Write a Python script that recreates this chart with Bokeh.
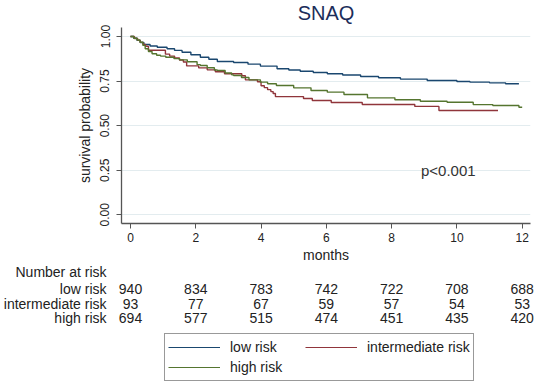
import numpy as np
from bokeh.plotting import figure
from bokeh.models import Range1d, FixedTicker, PrintfTickFormatter, Legend, LegendItem
from bokeh.layouts import column
from bokeh.embed import file_html
from bokeh.resources import INLINE
from bokeh.core.properties import value

# ---------------- data ----------------
groups = ["low risk", "intermediate risk", "high risk"]
colors = ["#1a476f", "#90353b", "#55752f"]

low_t = [0, 0.1, 0.2, 0.3, 0.41, 0.6, 0.82, 1.12, 1.35, 1.58, 1.85, 2.14, 2.4, 2.66,
         3.16, 3.6, 3.98, 4.49, 4.85, 5.2, 5.6, 6.03, 6.5, 7.05, 7.6, 8.27, 9.09,
         10.0, 10.4, 11.0, 11.49, 11.9]
low_s = [1.0, 0.99, 0.978, 0.966, 0.955, 0.947, 0.94, 0.931, 0.922, 0.912, 0.898, 0.884,
         0.872, 0.86, 0.854, 0.845, 0.834, 0.819, 0.812, 0.805, 0.798, 0.791, 0.784,
         0.776, 0.769, 0.761, 0.753, 0.748, 0.744, 0.74, 0.735, 0.735]

int_t = [0, 0.12, 0.22, 0.3, 0.38, 0.46, 0.55, 1.07, 1.2, 1.35, 1.5, 1.62, 1.72, 2.09,
         2.35, 2.6, 2.88, 3.41, 3.52, 3.89, 4.0, 4.1, 4.2, 4.3, 4.37, 4.44, 5.3, 5.57,
         6.15, 7.1, 8.71, 9.45, 11.26]
int_s = [1.0, 0.989, 0.978, 0.967, 0.956, 0.945, 0.923, 0.901, 0.89, 0.879, 0.868, 0.857,
         0.835, 0.824, 0.813, 0.802, 0.791, 0.78, 0.757, 0.746, 0.724, 0.713, 0.702,
         0.691, 0.68, 0.663, 0.652, 0.641, 0.63, 0.619, 0.608, 0.585, 0.585]

high_t = [0, 0.1, 0.2, 0.29, 0.38, 0.45, 0.55, 0.66, 0.8, 0.92, 1.08, 1.33, 1.5, 1.74,
          2.04, 2.14, 2.35, 2.57, 2.66, 2.9, 3.1, 3.16, 3.4, 3.63, 3.98, 4.2, 4.47, 5.0,
          5.53, 6.03, 6.54, 7.26, 8.1, 8.88, 9.7, 10.5, 11.1, 11.9, 12.0]
high_s = [1.0, 0.99, 0.98, 0.968, 0.95, 0.931, 0.916, 0.903, 0.895, 0.89, 0.884, 0.876,
          0.869, 0.858, 0.842, 0.837, 0.825, 0.812, 0.809, 0.795, 0.785, 0.781, 0.77,
          0.757, 0.744, 0.735, 0.725, 0.712, 0.697, 0.688, 0.675, 0.656, 0.645, 0.637,
          0.631, 0.618, 0.613, 0.603, 0.603]

risk_times = [0, 2, 4, 6, 8, 10, 12]
risk_low = [940, 834, 783, 742, 722, 708, 688]
risk_int = [93, 77, 67, 59, 57, 54, 53]
risk_high = [694, 577, 515, 474, 451, 435, 420]

x_ticks = [0, 2, 4, 6, 8, 10, 12]
y_ticks = [0, 0.25, 0.5, 0.75, 1.0]
title_text = "SNAQ"
x_label = "months"
y_label = "survival probability"
p_text = "p<0.001"
p_pos = (8.9, 0.25)
table_header = "Number at risk"

# ---------------- layout helpers ----------------
W, H_MAIN, H_TAB = 541, 265, 117
X0_PX, PX_PER_X = 130.0, 32.64          # pixel column of x=0 and pixels per month
FRAME_L, FRAME_R = 121, 530
FRAME_T, FRAME_B = 27, 223
Y1_PX, Y0_PX = 36.0, 214.3               # pixel rows of y=1 and y=0

def px_to_x(px):
    return (px - X0_PX) / PX_PER_X

def py_to_y(py):
    return (Y0_PX - py) / (Y0_PX - Y1_PX)

FONT = "Liberation Sans"
TXT = "#222222"
curve_data = [(low_t, low_s), (int_t, int_s), (high_t, high_s)]

# ---------------- main plot ----------------
p = figure(width=W, height=H_MAIN, output_backend="svg", toolbar_location=None,
           x_range=Range1d(px_to_x(FRAME_L), px_to_x(FRAME_R)),
           y_range=Range1d(py_to_y(FRAME_B), py_to_y(FRAME_T)),
           min_border_left=FRAME_L, min_border_right=W - FRAME_R,
           min_border_top=FRAME_T, min_border_bottom=H_MAIN - FRAME_B)
p.frame_align = False
p.title.text = title_text
p.title.align = "center"
p.title.vertical_align = "top"
p.title.text_font = FONT
p.title.text_font_size = "20px"
p.title.text_font_style = "normal"
p.title.text_color = "#1c2d5a"
p.title.standoff = 3
p.outline_line_color = None
p.background_fill_color = "white"
p.border_fill_color = "white"

for (ts, ss), c in zip(curve_data, colors):
    p.step(ts, ss, mode="after", line_color=c, line_width=1.4)

p.text(x=[p_pos[0]], y=[p_pos[1]], text=[p_text], text_align="left", text_baseline="middle",
       text_font=value(FONT), text_font_size="15px", text_color="#333333")

p.xgrid.grid_line_color = None
p.ygrid.grid_line_color = "#e3ecef"
p.ygrid.grid_line_width = 1
p.xaxis.ticker = FixedTicker(ticks=x_ticks)
p.yaxis.ticker = FixedTicker(ticks=y_ticks)
p.yaxis.formatter = PrintfTickFormatter(format="%.2f")
p.yaxis.major_label_orientation = "parallel"
for ax in [p.xaxis, p.yaxis]:
    ax.axis_line_color = "#555555"
    ax.axis_line_width = 1.3
    ax.major_tick_line_color = "#555555"
    ax.major_tick_out = 5
    ax.major_tick_in = 0
    ax.minor_tick_line_color = None
    ax.major_label_text_font = FONT
    ax.major_label_text_font_size = "12px"
    ax.major_label_text_color = TXT
    ax.axis_label_text_font = FONT
    ax.axis_label_text_font_size = "14px"
    ax.axis_label_text_font_style = "normal"
    ax.axis_label_text_color = TXT
p.xaxis.axis_label = x_label
p.yaxis.axis_label = y_label
p.xaxis.major_label_standoff = 4
p.xaxis.axis_label_standoff = 2
p.yaxis.major_label_standoff = 7
p.yaxis.axis_label_standoff = 5

# ---------------- number-at-risk table + legend ----------------
p2 = figure(width=W, height=H_TAB, output_backend="svg", toolbar_location=None,
            x_range=Range1d(px_to_x(0), px_to_x(W)),
            y_range=Range1d(H_MAIN + H_TAB, H_MAIN),   # page pixel rows, top to bottom
            x_axis_location=None, y_axis_location=None,
            min_border_left=0, min_border_right=0, min_border_top=0, min_border_bottom=0)
p2.frame_align = False
p2.outline_line_color = None
p2.xgrid.grid_line_color = None
p2.ygrid.grid_line_color = None
p2.background_fill_color = "white"
p2.border_fill_color = "white"

label_x = px_to_x(106)
header_py = 271.0
row_py = [288.5, 303.0, 317.5]
p2.text(x=[label_x], y=[header_py], text=[table_header], text_align="right",
        text_baseline="middle", text_font=value(FONT), text_font_size="14px", text_color=TXT)
for g, counts, rp in zip(groups, [risk_low, risk_int, risk_high], row_py):
    p2.text(x=[label_x], y=[rp], text=[g], text_align="right", text_baseline="middle",
            text_font=value(FONT), text_font_size="14px", text_color=TXT)
    p2.text(x=risk_times, y=[rp] * len(risk_times), text=[str(v) for v in counts],
            text_align="center", text_baseline="middle",
            text_font=value(FONT), text_font_size="14px", text_color=TXT)

# legend keys: the same curves, drawn here only as (off-screen) legend sources
legend_renderers = [p2.step(ts, ss, mode="after", line_color=c, line_width=1.2)
                    for (ts, ss), c in zip(curve_data, colors)]
legend = Legend(items=[LegendItem(label=g, renderers=[r]) for g, r in zip(groups, legend_renderers)],
                orientation="horizontal", ncols=2, location=(164, 1),
                glyph_width=52, glyph_height=20, label_height=20, label_width=75,
                label_standoff=10, spacing=0, padding=3, margin=0,
                label_text_font=FONT, label_text_font_size="14px", label_text_color=TXT,
                border_line_color="#333333", border_line_width=1,
                background_fill_color="white", background_fill_alpha=1.0)
p2.add_layout(legend, "center")

layout = column(p, p2, spacing=0)
open("out.html", "w").write(file_html(layout, INLINE))
